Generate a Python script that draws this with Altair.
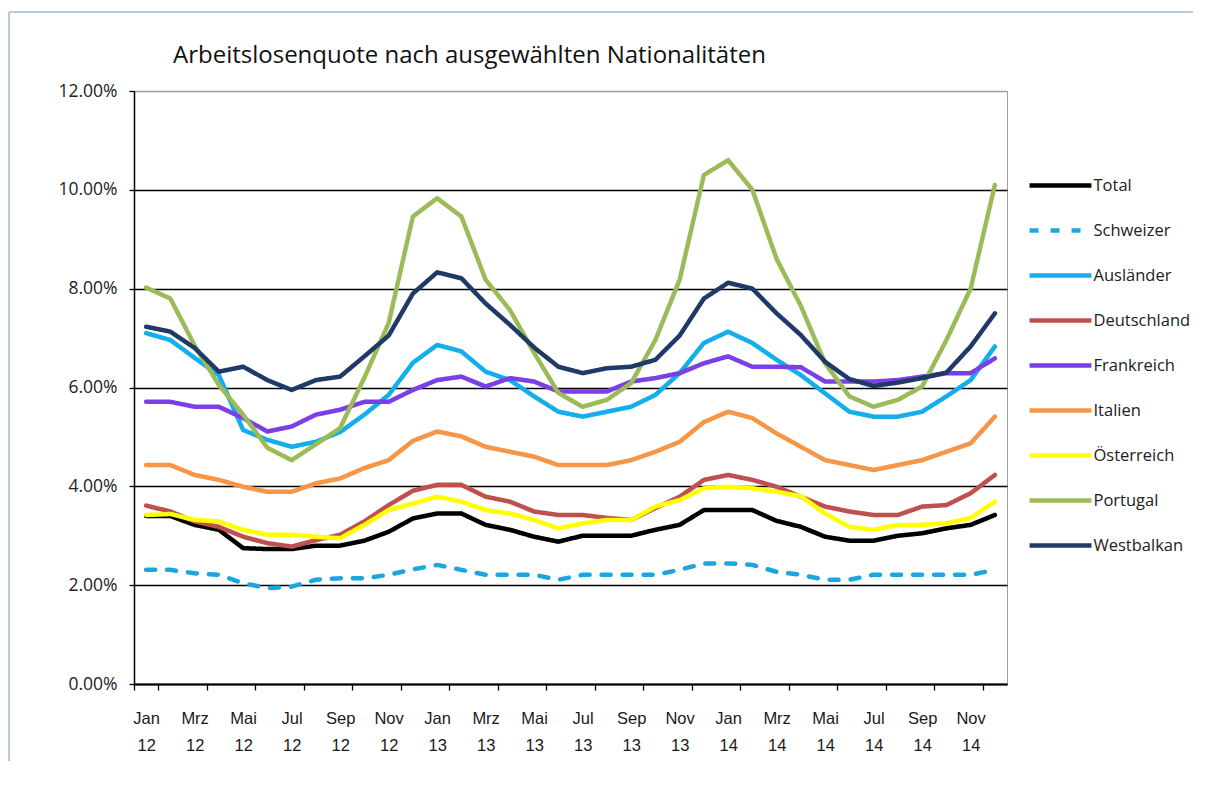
import altair as alt
import pandas as pd

# ---------------- data ----------------
months = ["Jan", "Feb", "Mrz", "Apr", "Mai", "Jun", "Jul", "Aug", "Sep", "Okt", "Nov", "Dez"]
years = ["12", "13", "14"]
periods = [f"{m} {y}" for y in years for m in months]
tick_labels = periods[::2]

series_names = ["Total", "Schweizer", "Ausländer", "Deutschland", "Frankreich",
                "Italien", "Österreich", "Portugal", "Westbalkan"]

total = [3.40, 3.40, 3.22, 3.12, 2.75, 2.73, 2.73, 2.80, 2.80, 2.90, 3.08, 3.35,
         3.45, 3.45, 3.22, 3.12, 2.98, 2.88, 3.00, 3.00, 3.00, 3.12, 3.22, 3.52,
         3.52, 3.52, 3.30, 3.18, 2.98, 2.90, 2.90, 3.00, 3.05, 3.15, 3.22, 3.42]
schweizer = [2.31, 2.31, 2.24, 2.21, 2.04, 1.94, 1.97, 2.11, 2.14, 2.14, 2.21, 2.32,
             2.41, 2.31, 2.21, 2.21, 2.21, 2.11, 2.21, 2.21, 2.21, 2.21, 2.31, 2.44,
             2.44, 2.41, 2.27, 2.21, 2.11, 2.11, 2.21, 2.21, 2.21, 2.21, 2.21, 2.31]
auslaender = [7.10, 6.96, 6.60, 6.25, 5.14, 4.94, 4.80, 4.90, 5.10, 5.45, 5.85, 6.50,
              6.86, 6.73, 6.32, 6.15, 5.82, 5.51, 5.41, 5.51, 5.61, 5.85, 6.29, 6.90,
              7.13, 6.90, 6.56, 6.25, 5.88, 5.51, 5.41, 5.41, 5.51, 5.82, 6.15, 6.83]
deutschland = [3.61, 3.49, 3.29, 3.18, 2.98, 2.85, 2.78, 2.91, 3.02, 3.29, 3.62, 3.91,
               4.03, 4.03, 3.79, 3.69, 3.49, 3.42, 3.42, 3.36, 3.32, 3.56, 3.79, 4.13,
               4.23, 4.13, 3.99, 3.79, 3.59, 3.49, 3.42, 3.42, 3.59, 3.62, 3.86, 4.23]
frankreich = [5.71, 5.71, 5.61, 5.61, 5.38, 5.11, 5.21, 5.45, 5.55, 5.71, 5.71, 5.95,
              6.15, 6.22, 6.02, 6.19, 6.12, 5.92, 5.92, 5.92, 6.12, 6.19, 6.29, 6.49,
              6.63, 6.42, 6.42, 6.41, 6.12, 6.12, 6.12, 6.15, 6.22, 6.29, 6.29, 6.59]
italien = [4.43, 4.43, 4.23, 4.13, 3.99, 3.89, 3.89, 4.06, 4.16, 4.37, 4.53, 4.92,
           5.11, 5.01, 4.80, 4.70, 4.60, 4.43, 4.43, 4.43, 4.53, 4.70, 4.90, 5.30,
           5.51, 5.38, 5.07, 4.80, 4.53, 4.43, 4.33, 4.43, 4.53, 4.70, 4.87, 5.41]
oesterreich = [3.42, 3.44, 3.32, 3.29, 3.12, 3.02, 3.02, 2.98, 2.95, 3.22, 3.52, 3.65,
               3.79, 3.69, 3.52, 3.45, 3.32, 3.15, 3.25, 3.32, 3.32, 3.59, 3.72, 3.96,
               3.99, 3.96, 3.89, 3.80, 3.45, 3.18, 3.12, 3.22, 3.22, 3.25, 3.36, 3.69]
portugal = [8.02, 7.80, 6.85, 6.05, 5.45, 4.78, 4.53, 4.85, 5.18, 6.20, 7.30, 9.46,
            9.83, 9.46, 8.18, 7.57, 6.70, 5.89, 5.61, 5.75, 6.09, 6.96, 8.18, 10.30,
            10.60, 10.00, 8.60, 7.65, 6.49, 5.82, 5.61, 5.75, 6.02, 6.96, 8.00, 10.10]
westbalkan = [7.23, 7.13, 6.80, 6.32, 6.42, 6.15, 5.95, 6.15, 6.22, 6.63, 7.05, 7.90,
              8.33, 8.21, 7.70, 7.27, 6.81, 6.42, 6.29, 6.39, 6.42, 6.56, 7.05, 7.80,
              8.12, 8.00, 7.50, 7.06, 6.52, 6.17, 6.03, 6.10, 6.19, 6.30, 6.83, 7.50]

series_values = [total, schweizer, auslaender, deutschland, frankreich,
                 italien, oesterreich, portugal, westbalkan]

y_ticks = [0, 0.02, 0.04, 0.06, 0.08, 0.10, 0.12]

# ---------------- styles ----------------
series_colors = ["#000000", "#1BA6E0", "#13AEEB", "#C0504D", "#7A3FE6",
                 "#F79646", "#FFFF00", "#9BBB59", "#1F3A66"]
series_widths = [4.5, 4.5, 5, 3, 3, 3, 3, 3, 3.5]
series_dashes = [[1, 0], [9, 12], [1, 0], [1, 0], [1, 0], [1, 0], [1, 0], [1, 0], [1, 0]]

rows = []
for name, vals in zip(series_names, series_values):
    for p, v in zip(periods, vals):
        rows.append({"Serie": name, "Monat": p, "Quote": v / 100.0})
df = pd.DataFrame(rows)

legend = alt.Legend(
    title=None, orient="none", legendX=902.5, legendY=70.5,
    symbolType="M-1.44,0H1.44", symbolSize=1849, rowPadding=12,
    labelOffset=9, labelFont="Open Sans", labelFontSize=16.5,
    labelColor="#222222", padding=0,
)

lines = alt.Chart(df).mark_line(strokeCap="round", strokeJoin="round").encode(
    x=alt.X(
        "Monat:N", sort=periods, bandPosition=0.5,
        scale=alt.Scale(type="band", domain=periods, paddingInner=0, paddingOuter=0),
        axis=alt.Axis(
            values=tick_labels, title=None, labelAngle=0,
            labelExpr="split(datum.label, ' ')", tickBand="extent",
            labelFont="Liberation Sans", labelFontSize=16.5, labelLineHeight=27,
            labelColor="#1A1A1A", labelPadding=20,
            domainColor="#000000", domainWidth=2, tickColor="#000000",
            tickWidth=1.3, tickSize=6, grid=False,
        ),
    ),
    y=alt.Y(
        "Quote:Q",
        scale=alt.Scale(domain=[0, 0.12], nice=False, zero=True),
        axis=alt.Axis(
            values=y_ticks, format=".2%", title=None,
            labelFont="Open Sans", labelFontSize=17.5, labelColor="#222222",
            labelPadding=12, tickSize=5, tickColor="#000000", tickWidth=1.3,
            domainColor="#000000", domainWidth=1.5,
            grid=True, gridWidth=1.3,
            gridColor=alt.condition("datum.value >= 0.119", alt.value("#A0A0A0"), alt.value("#000000")),
        ),
    ),
    color=alt.Color("Serie:N", sort=series_names,
                    scale=alt.Scale(domain=series_names, range=series_colors), legend=legend),
    strokeWidth=alt.StrokeWidth("Serie:N", sort=series_names,
                                scale=alt.Scale(domain=series_names, range=series_widths), legend=legend),
    strokeDash=alt.StrokeDash("Serie:N", sort=series_names,
                              scale=alt.Scale(domain=series_names, range=series_dashes), legend=legend),
)

one = pd.DataFrame({"k": [0]})
frame_top = alt.Chart(one).mark_rule(color="#9DBAD6", strokeWidth=1.5).encode(
    x=alt.value(-125), x2=alt.value(1070), y=alt.value(-79)
)
frame_left = alt.Chart(one).mark_rule(color="#9DBAD6", strokeWidth=1.5).encode(
    x=alt.value(-125), y=alt.value(-79), y2=alt.value(670)
)

chart = alt.layer(frame_top, frame_left, lines).properties(
    width=873, height=593,
    title=alt.TitleParams(
        text="Arbeitslosenquote nach ausgewählten Nationalitäten",
        anchor="start", frame="group", dx=39, offset=-76, baseline="alphabetic",
        font="Open Sans", fontSize=24, fontWeight="normal", color="#111111",
    ),
    padding={"left": 126, "top": 83, "right": 186, "bottom": 80},
    autosize="none",
    background="#FFFFFF",
).configure_view(stroke="#A0A0A0", strokeWidth=1)

chart.save("out.html", embed_options={"renderer": "svg", "actions": False})
